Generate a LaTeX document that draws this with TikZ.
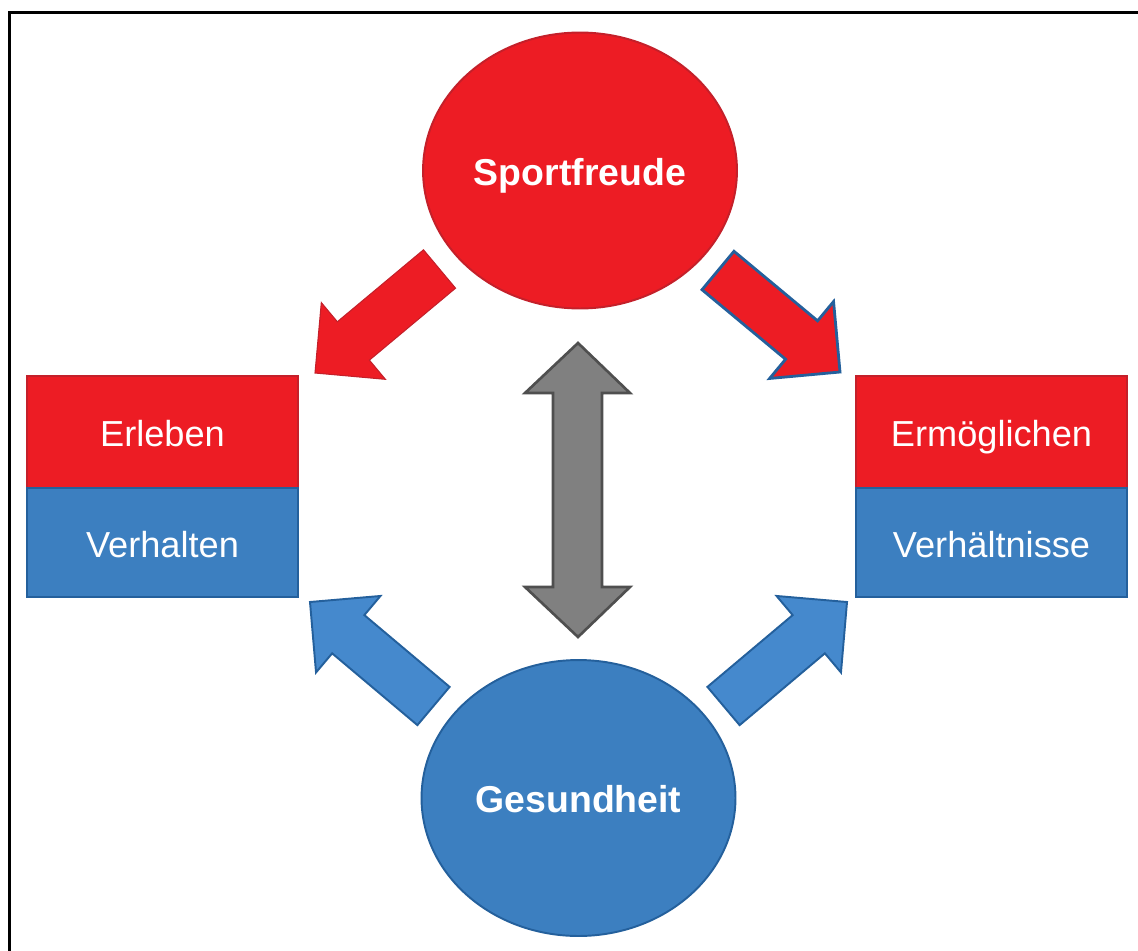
\documentclass[tikz,border=0pt]{standalone}
\usepackage{fontspec}
\setmainfont{Liberation Sans}
\usetikzlibrary{calc,shapes.geometric}
\definecolor{rfill}{HTML}{ED1C24}
\definecolor{rline}{HTML}{C4202A}
\definecolor{bfill}{HTML}{3C7FC0}
\definecolor{bline}{HTML}{24609C}
\definecolor{bafill}{HTML}{4589CD}
\definecolor{gfill}{HTML}{808080}
\definecolor{gline}{HTML}{4F4F4F}
\tikzset{
  bigell/.style={ellipse, minimum width=6.28cm, minimum height=5.52cm, inner sep=0pt, line width=1.1pt, text=white,
    font=\fontsize{21.3}{25}\selectfont\bfseries, text height=17pt, text depth=0pt},
  redell/.style={bigell, fill=rfill, draw=rline},
  blueell/.style={bigell, fill=bfill, draw=bline},
  halfbox/.style={rectangle, minimum width=5.42cm, inner sep=0pt, line width=1pt, text=white,
    font=\fontsize{20.6}{24}\selectfont, text height=17pt, text depth=0pt},
  redbox/.style={halfbox, minimum height=2.24cm, fill=rfill, draw=rline},
  bluebox/.style={halfbox, minimum height=2.18cm, fill=bfill, draw=bline},
  redarrow/.style={fill=rfill, draw=rline, line width=0.6pt, line join=miter},
  redbluearrow/.style={fill=rfill, draw=bline, line width=1.6pt, line join=miter},
  bluearrow/.style={fill=bafill, draw=bline, line width=1.1pt, line join=miter},
  grayarrow/.style={fill=gfill, draw=gline, line width=1.5pt, line join=miter},
  frameline/.style={draw=black, line width=2pt}
}
\newcommand{\blockarrow}[3]{%
  \path[#3] ($(#1)!0.5cm!90:(#2)$)
    -- ($($(#2)!1cm!(#1)$)!0.5cm!-90:(#1)$)
    -- ($($(#2)!1cm!(#1)$)!1cm!-90:(#1)$)
    -- (#2)
    -- ($($(#2)!1cm!(#1)$)!1cm!90:(#1)$)
    -- ($($(#2)!1cm!(#1)$)!0.5cm!90:(#1)$)
    -- ($(#1)!0.5cm!-90:(#2)$) -- cycle;%
}
\begin{document}
\begin{tikzpicture}[x=0.02cm, y=-0.02cm]
  \useasboundingbox (0,0) rectangle (1138,950);
  \clip (0,0) rectangle (1138,950);
  \draw[frameline] (9.5,1000) -- (9.5,12.5) -- (1200,12.5);

  % block arrows
  \coordinate (a1t) at (439.5,269);  \coordinate (a1p) at (315,373);
  \coordinate (a2t) at (718,270.5);  \coordinate (a2p) at (840,372);
  \coordinate (a3t) at (433.5,706);  \coordinate (a3p) at (310,602);
  \coordinate (a4t) at (723.5,706);  \coordinate (a4p) at (847,602);
  \blockarrow{a1t}{a1p}{redarrow}
  \blockarrow{a2t}{a2p}{redbluearrow}
  \blockarrow{a3t}{a3p}{bluearrow}
  \blockarrow{a4t}{a4p}{bluearrow}

  % ellipses
  \node[redell] (sport) at (580,170.5) {Sportfreude};
  \node[blueell] (ges) at (578.5,798) {Gesundheit};

  % boxes
  \node[redbox] (erl) at (162.5,432) {Erleben};
  \node[bluebox] (verh) at (162.5,542.5) {Verhalten};
  \node[redbox] (erm) at (991.5,432) {Ermöglichen};
  \node[bluebox] (verhn) at (991.5,542.5) {Verhältnisse};

  % double arrow
  \coordinate (dtop) at (578,343);
  \coordinate (dbot) at (578,637);
  \path[grayarrow] (dtop) -- (630,393) -- (602,393) -- (602,587) -- (630,587)
    -- (dbot) -- (525,587) -- (553,587) -- (553,393) -- (525,393) -- cycle;
\end{tikzpicture}
\end{document}
